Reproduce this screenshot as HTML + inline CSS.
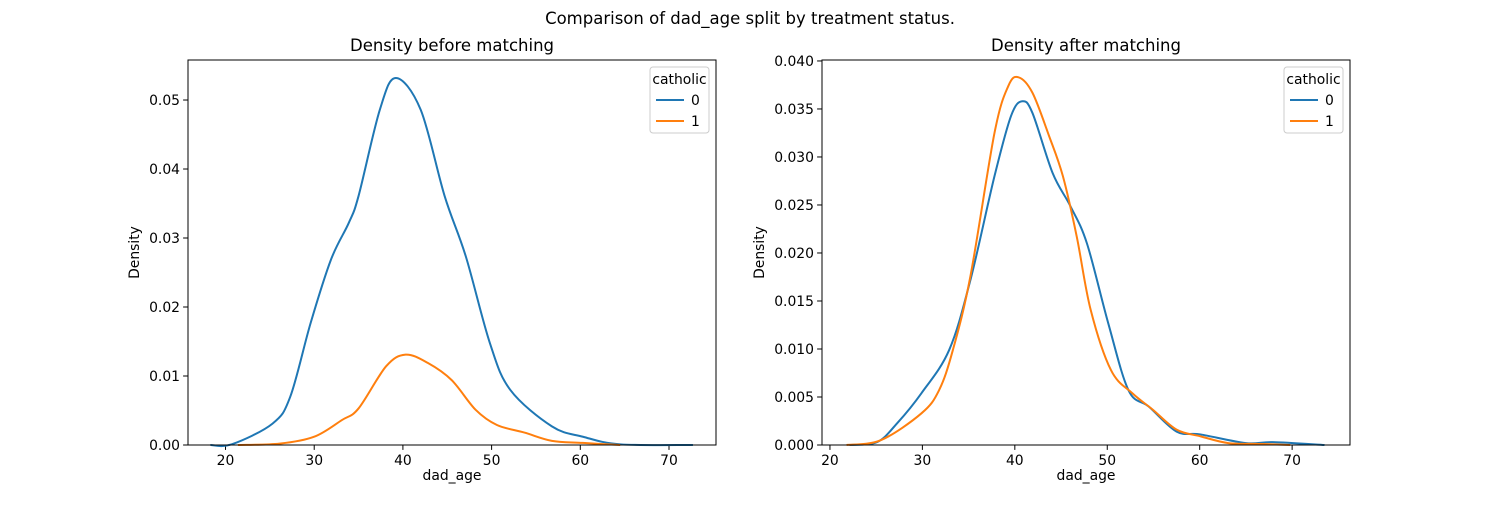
<!DOCTYPE html>
<html><head><meta charset="utf-8"><style>
body{margin:0;background:#fff}
svg{font-family:"DejaVu Sans","Liberation Sans",sans-serif}
</style></head><body>
<svg id="c" width="1500" height="500" viewBox="0 0 1500 500">
<text x="750" y="24" font-size="16.5" text-anchor="middle">Comparison of dad_age split by treatment status.</text>
</svg>
<script>
const leftX0=[18.3,20.7,25.3,27.3,29.6,31.9,33.9,35.0,37.4,39.2,42.0,44.7,47.1,49.8,52.1,56.8,60.3,64.5,72.7];
const leftY0=[0,0.0001,0.0031,0.0070,0.0177,0.0269,0.0322,0.0361,0.0486,0.0532,0.0486,0.0361,0.0273,0.0148,0.0080,0.0027,0.0012,0.0001,0];
const leftX1=[21.4,26.1,30.0,33.1,35.0,38.1,40.3,42.8,45.5,48.2,50.6,53.7,56.8,60.3,64.5];
const leftY1=[0,0.0002,0.0012,0.0036,0.0053,0.0114,0.0131,0.0119,0.0094,0.0051,0.0029,0.0018,0.0006,0.0003,0];
const rightX0=[22.1,25.1,27.3,29.9,32.9,35.2,37.8,39.6,40.8,41.9,44.1,46.0,47.8,50.1,52.3,54.5,57.5,60.1,65.0,67.9,73.5];
const rightY0=[0,0.0003,0.0023,0.0054,0.0099,0.0172,0.0280,0.0343,0.0358,0.0346,0.0283,0.0249,0.0210,0.0127,0.0057,0.0040,0.0014,0.0011,0.0002,0.0003,0];
const rightX1=[21.8,25.5,29.9,31.8,33.3,35.2,37.8,39.3,40.4,41.9,43.7,45.2,46.7,48.2,50.4,52.7,54.9,57.5,60.1,63.1,66.8,69.8];
const rightY1=[0,0.0005,0.0033,0.0057,0.0099,0.0176,0.0325,0.0374,0.0383,0.0367,0.0322,0.0280,0.0217,0.0141,0.0078,0.0054,0.0037,0.0016,0.0009,0.0002,0.0001,0];
const leftYTicks=["0.00","0.01","0.02","0.03","0.04","0.05"];
const rightYTicks=["0.000","0.005","0.010","0.015","0.020","0.025","0.030","0.035","0.040"];
const xTicks=[20,30,40,50,60,70];

const NS="http://www.w3.org/2000/svg";
const svg=document.getElementById('c');
function mk(tag,attrs,parent){const e=document.createElementNS(NS,tag);for(const k in attrs)e.setAttribute(k,attrs[k]);(parent||svg).appendChild(e);return e;}
function smooth(pts){let d=`M${pts[0][0]},${pts[0][1]}`;for(let i=0;i<pts.length-1;i++){const p0=pts[Math.max(0,i-1)],p1=pts[i],p2=pts[i+1],p3=pts[Math.min(pts.length-1,i+2)];const c1=[p1[0]+(p2[0]-p0[0])/6,p1[1]+(p2[1]-p0[1])/6],c2=[p2[0]-(p3[0]-p1[0])/6,p2[1]-(p3[1]-p1[1])/6];d+=` C${c1[0]},${c1[1]} ${c2[0]},${c2[1]} ${p2[0]},${p2[1]}`;}return d;}

function panel(o){
  const g=mk('g',{});
  
  
  const sx=v=>o.x0+(v-o.xmin)/(o.xmax-o.xmin)*(o.x1-o.x0);
  const sy=v=>o.y1-(v-o.ymin)/(o.ymax-o.ymin)*(o.y1-o.y0);
  const t=mk('text',{x:(o.x0+o.x1)/2,y:o.y0-9,'font-size':16.5,'text-anchor':'middle'},g);t.textContent=o.title;
  
  
  xTicks.forEach(v=>{const X=sx(v);mk('line',{x1:X,x2:X,y1:o.y1,y2:o.y1+4.9,stroke:'#000','stroke-width':1},g);
    const l=mk('text',{x:X,y:o.y1+20,'font-size':13.9,'text-anchor':'middle'},g);l.textContent=v;
    
    });
  o.yt.forEach(s=>{const Y=sy(parseFloat(s));mk('line',{x1:o.x0-4.9,x2:o.x0,y1:Y,y2:Y,stroke:'#000','stroke-width':1},g);
    const l=mk('text',{x:o.x0-8,y:Y+5,'font-size':13.9,'text-anchor':'end'},g);l.textContent=s;
    
    });
  const xl=mk('text',{x:(o.x0+o.x1)/2,y:o.y1+35,'font-size':13.9,'text-anchor':'middle'},g);xl.textContent='dad_age';
  
  
  const yl=mk('text',{x:0,y:0,'font-size':13.9,'text-anchor':'middle',transform:`translate(${o.ylx},${(o.y0+o.y1)/2}) rotate(-90)`},g);yl.textContent='Density';
  
  
  [[o.xa,o.ya,'#1f77b4','series-0'],[o.xb,o.yb,'#ff7f0e','series-1']].forEach(s=>{
    const p=mk('path',{d:smooth(s[0].map((v,i)=>[sx(v),sy(s[1][i])])),fill:'none',stroke:s[2],'stroke-width':2},g);
    
    });
  mk('rect',{x:o.x0,y:o.y0,width:o.x1-o.x0,height:o.y1-o.y0,fill:'none',stroke:'#000','stroke-width':1},g);
  const lg=mk('g',{},g);
  
  
  const lx=o.x1-66;
  mk('rect',{x:lx,y:o.y0+7,width:59,height:66,rx:3,fill:'#fff',stroke:'#ccc','stroke-width':1},lg);
  const lt=mk('text',{x:lx+29.5,y:o.y0+24,'font-size':13.9,'text-anchor':'middle'},lg);lt.textContent='catholic';
  [['0','#1f77b4',45],['1','#ff7f0e',66]].forEach(e=>{
    const it=mk('g',{},lg);
    
    
    mk('line',{x1:lx+6,x2:lx+34,y1:o.y0+e[2]-5,y2:o.y0+e[2]-5,stroke:e[1],'stroke-width':2},it);
    const tx=mk('text',{x:lx+41,y:o.y0+e[2],'font-size':13.9},it);tx.textContent=e[0];});
}
panel({name:'panel-before',title:'Density before matching',x0:188,x1:716,y0:60,y1:445,xmin:15.77,xmax:75.3,ymin:0,ymax:0.0558,yt:leftYTicks,ylx:139,xa:leftX0,ya:leftY0,xb:leftX1,yb:leftY1});
panel({name:'panel-after',title:'Density after matching',x0:822,x1:1350,y0:60,y1:445,xmin:19.14,xmax:76.26,ymin:0,ymax:0.0401,yt:rightYTicks,ylx:764,xa:rightX0,ya:rightY0,xb:rightX1,yb:rightY1});
</script>
</body></html>
